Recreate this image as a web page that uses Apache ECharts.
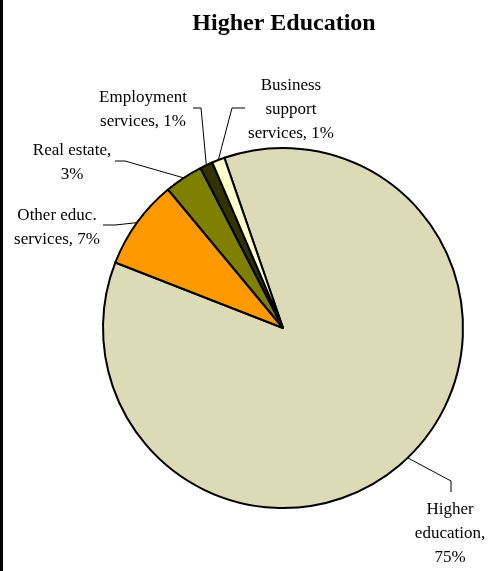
<!DOCTYPE html>
<html>
<head>
<meta charset="utf-8">
<script src="https://cdn.jsdelivr.net/npm/echarts@6/dist/echarts.min.js"></script>
<style>
html,body{margin:0;padding:0;background:#fff;}
#c{width:490px;height:571px;}
</style>
</head>
<body>
<div id="c"></div>
<script>
var title = 'Higher Education';
var categories = ['Higher education', 'Other educ. services', 'Real estate', 'Employment services', 'Business support services'];
var values = [75, 7, 3, 1, 1];
var labelTexts = ['Higher\neducation,\n', 'Other educ.\nservices, ', 'Real estate,\n', 'Employment\nservices, ', 'Business\nsupport\nservices, '];
var colors = ['#DDDBB7', '#FF9900', '#808000', '#333300', '#FFFFCC'];

// label anchor positions (centers) and leader-line elbows
var labelPos = [[450, 534], [57, 228], [72, 163], [143, 110], [291, 110]];
var elbows = [[[451, 481], [451, 492]], [[115, 225], [103, 225]], [[125, 161], [115, 161]], [[201, 108], [193, 108]], [[232, 108], [245, 108]]];

var chart = echarts.init(document.getElementById('c'));
chart.setOption({
  backgroundColor: '#fff',
  animation: false,
  title: {
    text: title, left: 279, top: 7, textAlign: 'center',
    textStyle: {fontFamily: 'Liberation Serif', fontWeight: 'bold', fontSize: 24, color: '#000'}
  },
  graphic: [{type: 'rect', shape: {x: 0, y: 0, width: 3, height: 571}, style: {fill: '#000'}}],
  series: [{
    type: 'pie',
    center: [283, 328],
    radius: 180,
    startAngle: 109,
    clockwise: true,
    avoidLabelOverlap: false,
    data: categories.map(function (c, i) {
      return {name: c, value: values[i], itemStyle: {color: colors[i]}};
    }),
    itemStyle: {borderColor: '#000', borderWidth: 2},
    label: {
      show: true,
      formatter: function (p) { return labelTexts[p.dataIndex] + p.value + '%'; },
      fontFamily: 'Liberation Serif', fontSize: 17, lineHeight: 24, color: '#000', align: 'center'
    },
    labelLine: {show: true, lineStyle: {color: '#000', width: 1}},
    labelLayout: function (p) {
      var i = p.dataIndex;
      var pts = p.labelLinePoints ? [p.labelLinePoints[0]].concat(elbows[i]) : undefined;
      return {x: labelPos[i][0], y: labelPos[i][1], align: 'center', verticalAlign: 'middle', labelLinePoints: pts};
    },
    emphasis: {disabled: true}
  }]
});
</script>
</body>
</html>
